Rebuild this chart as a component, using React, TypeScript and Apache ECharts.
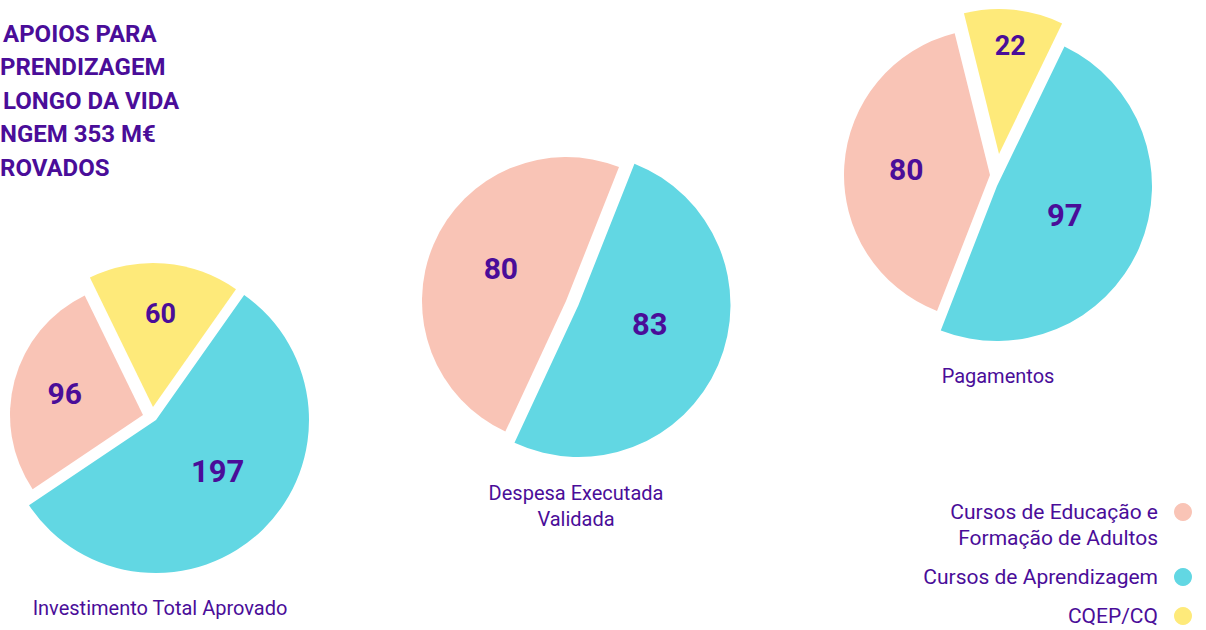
import React, { useEffect, useRef } from "react";
import * as echarts from "echarts";

// ---- data ----
const titleLines = ["APOIOS PARA", "PRENDIZAGEM", "LONGO DA VIDA", "NGEM 353 M€", "ROVADOS"];
const pieCategories = ["Investimento Total Aprovado", "Despesa Executada\nValidada", "Pagamentos"];
const seriesNames = ["Cursos de Educação e\nFormação de Adultos", "Cursos de Aprendizagem", "CQEP/CQ"];
const efaValues: (number | null)[] = [96, 80, 80];
const aprendizagemValues: (number | null)[] = [197, 83, 97];
const cqepValues: (number | null)[] = [60, null, 22];

// ---- styles / layout ----
const PURPLE = "#4a0d99";
const sliceColors = ["#f9c4b6", "#62d7e3", "#feea7a"];
const FONT = "Roboto, 'Noto Sans', sans-serif";

const titleLineX = [3, 0, 3, 0, 0];
const titleTop = 17;
const titleLineHeight = 33.5;

const pieStartAngles = [116, 68.4, 104];
// per pie, per series (efa, aprendizagem, cqep)
const sliceCenters = [
  [[143, 415], [156, 420], [153, 407]],
  [[566, 301], [578.5, 305], [0, 0]],
  [[990, 175], [997, 186], [999, 154]],
];
const sliceRadii = [
  [133, 153, 144],
  [144, 152, 0],
  [146, 155, 145],
];
const labelCenters = [
  [[143, 415], [161, 414], [153, 407]],
  [[567, 297], [578, 294], [0, 0]],
  [[990, 175], [997, 186], [999, 154]],
];
const labelDistances = [
  [78, 78, 90],
  [69, 75, 0],
  [81, 71, 106],
];
const labelFontSizes = [
  [30, 31, 27],
  [30, 31, 0],
  [30, 31, 27],
];
const subtitleX = [160, 576, 998];
const subtitleTop = [595, 480, 363];

const valuesBySeries = [efaValues, aprendizagemValues, cqepValues];
const drawOrder = [2, 1, 0]; // clockwise from startAngle

function buildOption() {
  const shapeSeries: any[] = [];
  const labelSeries: any[] = [];
  pieCategories.forEach((cat, p) => {
    const present = drawOrder.filter((s) => valuesBySeries[s][p] != null);
    present.forEach((s) => {
      const common = {
        type: "pie",
        name: cat,
        silent: true,
        clockwise: true,
        startAngle: pieStartAngles[p],
        avoidLabelOverlap: false,
        labelLine: { show: false },
        emphasis: { disabled: true },
        tooltip: { show: false },
      };
      shapeSeries.push({
        ...common,
        center: sliceCenters[p][s],
        radius: [0, sliceRadii[p][s]],
        label: { show: false },
        data: present.map((k) => ({
          name: seriesNames[k],
          value: valuesBySeries[k][p],
          itemStyle: { color: k === s ? sliceColors[k] : "rgba(0,0,0,0)" },
        })),
      });
      labelSeries.push({
        ...common,
        z: 3,
        center: labelCenters[p][s],
        radius: [0, 2 * labelDistances[p][s]],
        label: {
          show: true,
          position: "inside",
          formatter: "{c}",
          color: PURPLE,
          fontFamily: FONT,
          fontWeight: "bold",
          fontSize: labelFontSizes[p][s],
        },
        data: present.map((k) => ({
          name: seriesNames[k],
          value: valuesBySeries[k][p],
          itemStyle: { color: "rgba(0,0,0,0)" },
          label: { show: k === s },
        })),
      });
    });
  });

  return {
    animation: false,
    backgroundColor: "#ffffff",
    title: [
      ...titleLines.map((t, i) => ({
        text: t,
        left: titleLineX[i],
        top: titleTop + i * titleLineHeight,
        padding: 0,
        textStyle: {
          fontFamily: FONT,
          fontWeight: "bold",
          fontSize: 24,
          lineHeight: titleLineHeight,
          color: PURPLE,
        },
      })),
      ...pieCategories.map((c, i) => ({
        text: c,
        left: subtitleX[i],
        top: subtitleTop[i],
        textAlign: "center",
        padding: 0,
        textStyle: {
          fontFamily: FONT,
          fontWeight: "normal",
          fontSize: 20,
          lineHeight: 26,
          color: PURPLE,
        },
      })),
    ],
    legend: {
      orient: "vertical",
      right: 9,
      top: 468,
      align: "right",
      icon: "circle",
      itemWidth: 18,
      itemHeight: 18,
      itemGap: 13,
      selectedMode: false,
      // first label is two lines: a leading empty line keeps its first line level with the dot
      formatter: (name: string) => (name.indexOf("\n") >= 0 ? "\n" + name : name),
      textStyle: {
        color: PURPLE,
        fontFamily: FONT,
        fontSize: 21,
        lineHeight: 26,
        padding: [0, 11, 0, 0],
      },
      data: seriesNames.map((n, i) => ({
        name: n,
        itemStyle: { color: sliceColors[i], opacity: 1 },
      })),
    },
    series: [...shapeSeries, ...labelSeries],
  };
}

export default function App() {
  const ref = useRef<HTMLDivElement>(null);
  useEffect(() => {
    if (!ref.current) return;
    const chart = echarts.init(ref.current, undefined, { renderer: "svg" });
    chart.setOption(buildOption() as any);
    return () => chart.dispose();
  }, []);
  return (
    <div
      ref={ref}
      style={{ position: "absolute", left: 0, top: 0, width: 1206, height: 630 }}
    />
  );
}
